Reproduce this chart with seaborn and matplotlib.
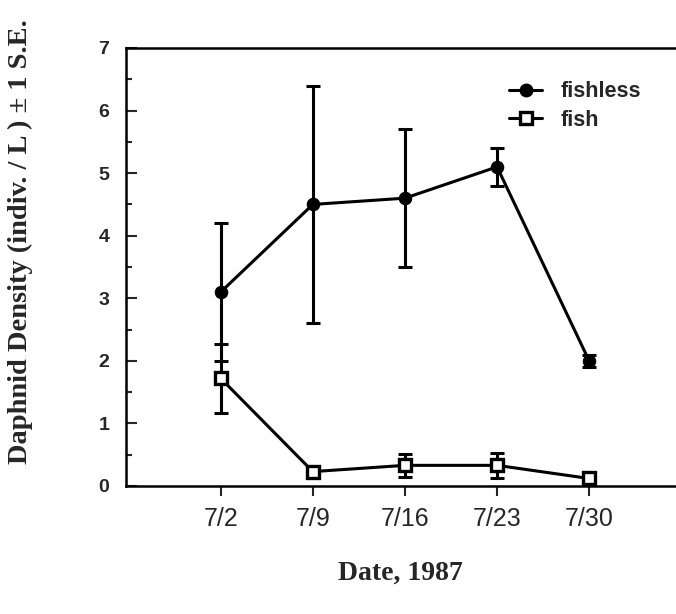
import matplotlib
matplotlib.use("Agg")
import matplotlib.pyplot as plt
from matplotlib.ticker import MultipleLocator
from matplotlib.lines import Line2D
import seaborn as sns
import pandas as pd

# ---- data ----
dates = ["7/2", "7/9", "7/16", "7/23", "7/30"]
days = [2, 9, 16, 23, 30]
fishless_mean = [3.1, 4.5, 4.6, 5.1, 2.0]
fishless_se = [1.1, 1.9, 1.1, 0.3, 0.1]
fish_mean = [1.72, 0.23, 0.33, 0.33, 0.12]
fish_se = [0.55, 0.05, 0.18, 0.2, 0.04]
series = ["fishless", "fish"]

df = pd.DataFrame({
    "day": days * 2,
    "density": fishless_mean + fish_mean,
    "se": fishless_se + fish_se,
    "treatment": ["fishless"] * 5 + ["fish"] * 5,
})

sns.set_style("ticks")
plt.rcParams["font.family"] = ["Liberation Sans", "DejaVu Sans"]

fig = plt.figure(figsize=(6.76, 6.14), dpi=100)
ax = fig.add_axes([126 / 676, (614 - 486) / 614, 1 - 126 / 676, (486 - 48) / 614])

lw = 2.2

sns.lineplot(data=df, x="day", y="density", hue="treatment", style="treatment",
             hue_order=series, style_order=series,
             palette={"fishless": "black", "fish": "black"},
             markers={"fishless": "o", "fish": "s"}, dashes=False,
             linewidth=lw, markersize=9, ax=ax, legend=False, zorder=3)

for line in ax.lines:
    m = line.get_marker()
    line.set_markeredgecolor("black")
    if m == "s":
        line.set_markerfacecolor("white")
        line.set_markeredgewidth(2.4)
        line.set_markersize(8)
        line.set_zorder(4)
    elif m == "o":
        line.set_markerfacecolor("black")
        line.set_markersize(9)

for name in series:
    sub = df[df["treatment"] == name]
    ax.errorbar(sub["day"], sub["density"], yerr=sub["se"], fmt="none",
                ecolor="black", elinewidth=lw, capsize=5, capthick=lw, zorder=2)

ax.set_xlim(-5.2, 36.6)
ax.set_ylim(0, 7)
ax.set_xticks(days)
ax.set_xticklabels(dates, fontsize=18)
ax.yaxis.set_major_locator(MultipleLocator(1))
ax.yaxis.set_minor_locator(MultipleLocator(0.5))
for lab in ax.get_yticklabels():
    lab.set_fontweight("bold")
    lab.set_fontsize(14)

ax.tick_params(axis="y", which="major", direction="in", length=8, width=1.5, pad=12)
ax.tick_params(axis="y", which="minor", direction="in", length=4, width=1.5)
ax.tick_params(axis="x", which="major", direction="out", length=7, width=1.5, pad=8)

for s in ["top", "left", "bottom"]:
    ax.spines[s].set_visible(True)
    ax.spines[s].set_linewidth(1.8)
    ax.spines[s].set_color("black")
ax.spines["right"].set_visible(False)

ax.set_xlabel("")
ax.set_ylabel("")
fig.text(400 / 676, 1 - 573 / 614, "Date, 1987", ha="center", va="center",
         fontsize=20, fontweight="bold", family=["Liberation Serif", "DejaVu Serif"])
fig.text(20 / 676, 1 - 242 / 614, "Daphnid Density (indiv. / L ) \u00b1 1 S.E.", ha="center",
         va="center", rotation=90, fontsize=20.5, fontweight="bold",
         family=["Liberation Serif", "DejaVu Serif"])

handles = [
    Line2D([], [], color="black", lw=lw, marker="o", markersize=9,
           markerfacecolor="black", markeredgecolor="black"),
    Line2D([], [], color="black", lw=lw, marker="s", markersize=8,
           markerfacecolor="white", markeredgecolor="black", markeredgewidth=2.4),
]
leg = ax.legend(handles, series, loc="upper left",
                bbox_to_anchor=(490 / 676, 1 - 62 / 614), bbox_transform=fig.transFigure,
                frameon=False, handlelength=1.5, handletextpad=0.9, labelspacing=0.35,
                prop={"weight": "bold", "size": 15.5})

fig.savefig("out.png", dpi=100, facecolor="white")
